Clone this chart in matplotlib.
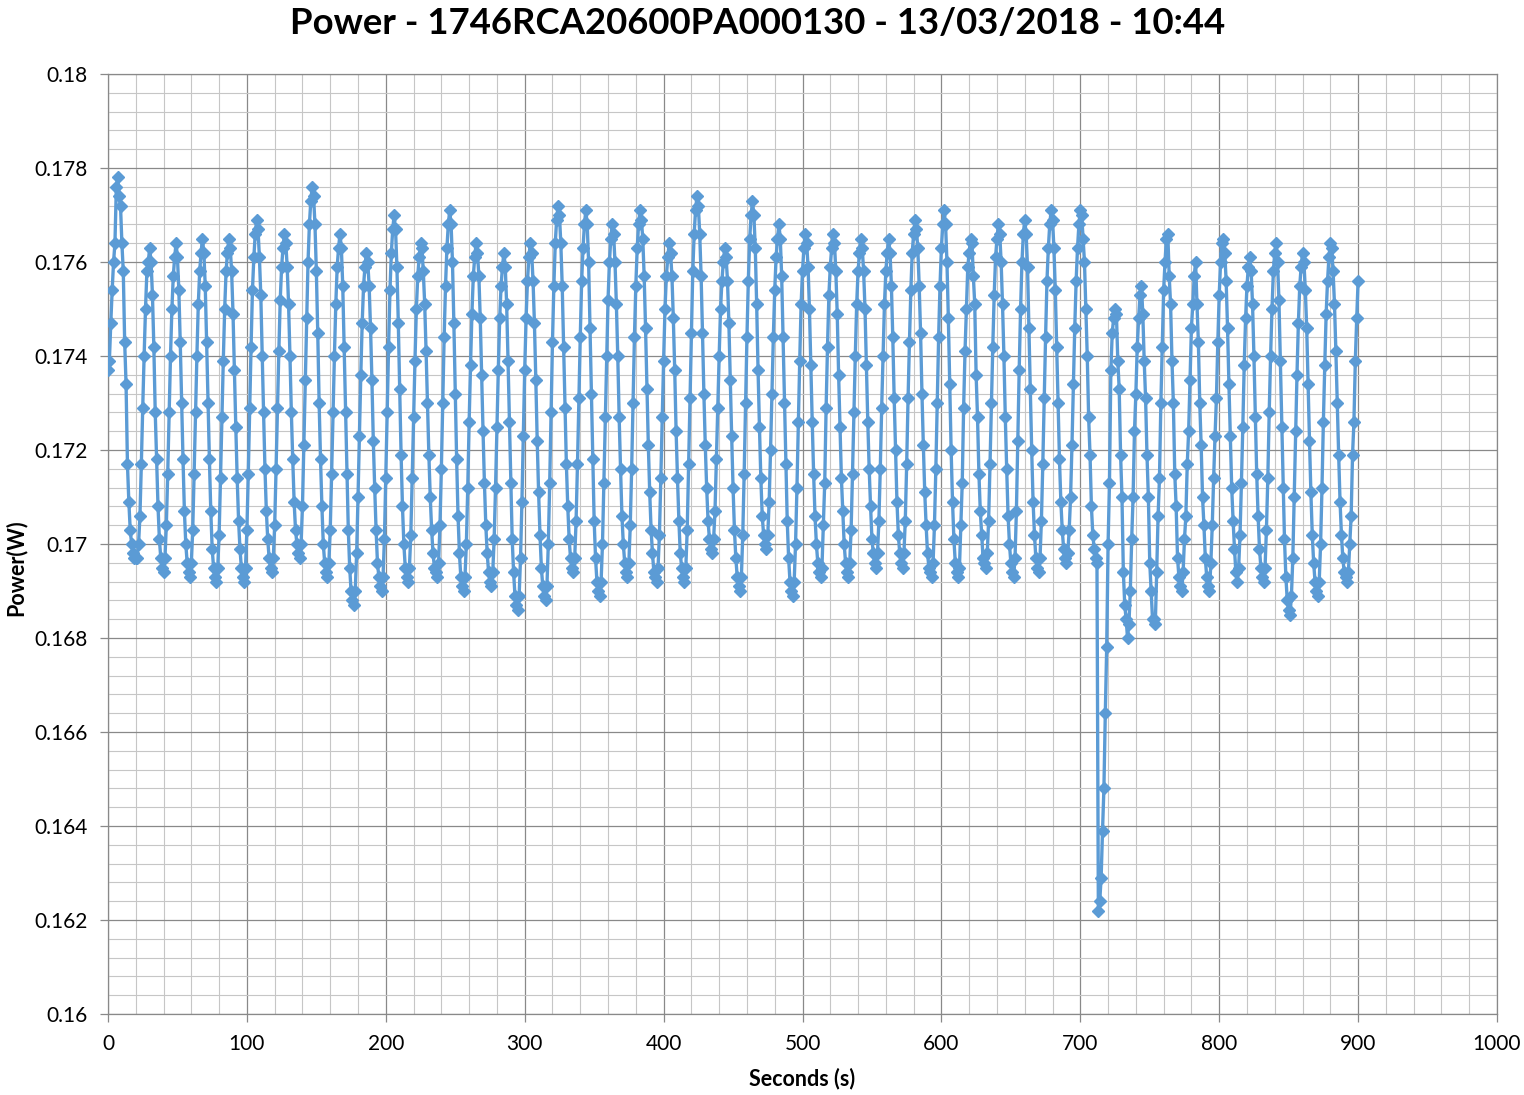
import numpy as np
import matplotlib
matplotlib.use("Agg")
import matplotlib.pyplot as plt
from matplotlib.ticker import MultipleLocator, FuncFormatter

TITLE = "Power - 1746RCA20600PA000130 - 13/03/2018 - 10:44"
X_LABEL = "Seconds (s)"
Y_LABEL = "Power(W)"

# Power samples in mW, one sample per second (t = 0 ... 900 s), one line per oscillation cycle
power_000 = [
    173.7, 173.9, 174.7, 175.4, 176.0, 176.4, 177.6, 177.8, 177.4, 177.2, 176.4, 175.8, 174.3, 173.4, 171.7, 170.9, 170.3, 170.0, 169.8, 169.7, 169.7,
    169.7, 170.0, 170.6, 171.7, 172.9, 174.0, 175.0, 175.8, 176.0, 176.3, 176.0, 175.3, 174.2, 172.8, 171.8, 170.8, 170.1, 169.7, 169.5,
    169.4, 169.7, 170.4, 171.5, 172.8, 174.0, 175.0, 175.7, 176.1, 176.4, 176.1, 175.4, 174.3, 173.0, 171.8, 170.7, 170.0, 169.6, 169.4,
    169.3, 169.6, 170.3, 171.5, 172.8, 174.0, 175.1, 175.8, 176.2, 176.5, 176.2, 175.5, 174.3, 173.0, 171.8, 170.7, 169.9, 169.5, 169.3,
    169.2, 169.5, 170.2, 171.4, 172.7, 173.9, 175.0, 175.8, 176.2, 176.5, 176.3, 175.8, 174.9, 173.7, 172.5, 171.4, 170.5, 169.9, 169.5, 169.3,
]
power_098 = [
    169.2, 169.5, 170.3, 171.5, 172.9, 174.2, 175.4, 176.1, 176.6, 176.9, 176.7, 176.1, 175.3, 174.0, 172.8, 171.6, 170.7, 170.1, 169.7, 169.5,
    169.4, 169.7, 170.4, 171.6, 172.9, 174.1, 175.2, 175.9, 176.3, 176.6, 176.4, 175.9, 175.1, 174.0, 172.8, 171.8, 170.9, 170.3, 170.0, 169.8,
    169.7, 170.0, 170.8, 172.1, 173.5, 174.8, 176.0, 176.8, 177.3, 177.6, 177.4, 176.8, 175.8, 174.5, 173.0, 171.8, 170.8, 170.0, 169.6, 169.4,
    169.3, 169.6, 170.3, 171.5, 172.8, 174.0, 175.1, 175.9, 176.3, 176.6, 176.3, 175.5, 174.2, 172.8, 171.5, 170.3, 169.5, 169.0, 168.8,
    168.7, 169.0, 169.8, 171.0, 172.3, 173.6, 174.7, 175.5, 175.9, 176.2, 176.0, 175.5, 174.6, 173.5, 172.2, 171.2, 170.3, 169.6, 169.3, 169.1,
]
power_197 = [
    169.0, 169.3, 170.1, 171.4, 172.8, 174.2, 175.4, 176.2, 176.7, 177.0, 176.7, 175.9, 174.7, 173.3, 171.9, 170.8, 170.0, 169.5, 169.3,
    169.2, 169.5, 170.2, 171.4, 172.7, 173.9, 175.0, 175.7, 176.1, 176.4, 176.3, 175.8, 175.1, 174.1, 173.0, 171.9, 171.0, 170.3, 169.8, 169.5, 169.4,
    169.3, 169.6, 170.4, 171.6, 173.0, 174.4, 175.5, 176.3, 176.8, 177.1, 176.8, 176.0, 174.7, 173.2, 171.8, 170.6, 169.8, 169.3, 169.1,
    169.0, 169.3, 170.0, 171.2, 172.6, 173.8, 174.9, 175.7, 176.1, 176.4, 176.2, 175.7, 174.8, 173.6, 172.4, 171.3, 170.4, 169.8, 169.4, 169.2,
    169.1, 169.4, 170.1, 171.2, 172.5, 173.7, 174.8, 175.5, 175.9, 176.2, 175.9, 175.1, 173.9, 172.6, 171.3, 170.1, 169.4, 168.9, 168.7,
]
power_295 = [
    168.6, 168.9, 169.7, 170.9, 172.3, 173.7, 174.8, 175.6, 176.1, 176.4, 176.2, 175.6, 174.7, 173.5, 172.2, 171.1, 170.2, 169.5, 169.1, 168.9,
    168.8, 169.1, 170.0, 171.3, 172.8, 174.3, 175.5, 176.4, 176.9, 177.2, 177.0, 176.4, 175.5, 174.2, 172.9, 171.7, 170.8, 170.1, 169.7, 169.5,
    169.4, 169.7, 170.5, 171.7, 173.1, 174.4, 175.6, 176.3, 176.8, 177.1, 176.8, 176.0, 174.6, 173.2, 171.8, 170.5, 169.7, 169.2, 169.0,
    168.9, 169.2, 170.0, 171.3, 172.7, 174.0, 175.2, 176.0, 176.5, 176.8, 176.6, 176.0, 175.1, 174.0, 172.7, 171.6, 170.6, 170.0, 169.6, 169.4,
    169.3, 169.6, 170.4, 171.6, 173.0, 174.4, 175.5, 176.3, 176.8, 177.1, 176.9, 176.5, 175.7, 174.6, 173.3, 172.1, 171.1, 170.3, 169.8, 169.4, 169.3,
]
power_395 = [
    169.2, 169.5, 170.2, 171.4, 172.7, 173.9, 175.0, 175.7, 176.1, 176.4, 176.2, 175.7, 174.8, 173.7, 172.4, 171.4, 170.5, 169.8, 169.5, 169.3,
    169.2, 169.5, 170.3, 171.7, 173.1, 174.5, 175.8, 176.6, 177.1, 177.4, 177.2, 176.6, 175.7, 174.5, 173.2, 172.1, 171.2, 170.5, 170.1, 169.9,
    169.8, 170.1, 170.7, 171.8, 172.9, 174.0, 175.0, 175.6, 176.0, 176.3, 176.1, 175.6, 174.7, 173.5, 172.3, 171.2, 170.3, 169.7, 169.3, 169.1,
    169.0, 169.3, 170.2, 171.5, 173.0, 174.4, 175.6, 176.5, 177.0, 177.3, 177.0, 176.3, 175.1, 173.7, 172.5, 171.4, 170.6, 170.2, 170.0,
    169.9, 170.2, 170.9, 172.0, 173.2, 174.4, 175.4, 176.1, 176.5, 176.8, 176.5, 175.7, 174.4, 173.0, 171.7, 170.5, 169.7, 169.2, 169.0,
]
power_493 = [
    168.9, 169.2, 170.0, 171.2, 172.6, 173.9, 175.1, 175.8, 176.3, 176.6, 176.4, 175.9, 175.0, 173.8, 172.6, 171.5, 170.6, 170.0, 169.6, 169.4,
    169.3, 169.5, 170.4, 171.3, 172.9, 174.2, 175.3, 175.9, 176.3, 176.6, 176.4, 175.8, 174.9, 173.6, 172.5, 171.4, 170.7, 170.0, 169.6, 169.4,
    169.3, 169.6, 170.3, 171.5, 172.8, 174.0, 175.1, 175.8, 176.2, 176.5, 176.3, 175.8, 175.0, 173.8, 172.6, 171.6, 170.8, 170.1, 169.8, 169.6,
    169.5, 169.8, 170.5, 171.6, 172.9, 174.0, 175.1, 175.8, 176.2, 176.5, 176.2, 175.5, 174.4, 173.1, 172.0, 170.9, 170.2, 169.8, 169.6,
    169.5, 169.8, 170.5, 171.7, 173.1, 174.3, 175.4, 176.2, 176.6, 176.9, 176.7, 176.3, 175.5, 174.5, 173.2, 172.1, 171.1, 170.4, 169.8, 169.5, 169.4,
]
power_593 = [
    169.3, 169.6, 170.4, 171.6, 173.0, 174.4, 175.5, 176.3, 176.8, 177.1, 176.8, 176.0, 174.8, 173.4, 172.0, 170.9, 170.1, 169.6, 169.4,
    169.3, 169.5, 170.4, 171.3, 172.9, 174.1, 175.0, 175.9, 176.2, 176.5, 176.4, 175.7, 175.1, 173.6, 172.7, 171.5, 170.7, 170.2, 169.7, 169.6,
    169.5, 169.8, 170.5, 171.7, 173.0, 174.2, 175.3, 176.1, 176.5, 176.8, 176.6, 176.0, 175.1, 174.0, 172.7, 171.6, 170.6, 170.0, 169.6, 169.4,
    169.3, 169.7, 170.7, 172.2, 173.7, 175.0, 176.0, 176.6, 176.9, 176.6, 175.9, 174.6, 173.3, 172.0, 170.9, 170.2, 169.7, 169.5,
    169.4, 169.7, 170.5, 171.7, 173.1, 174.4, 175.6, 176.3, 176.8, 177.1, 176.9, 176.3, 175.4, 174.2, 173.0, 171.8, 170.9, 170.3, 169.9, 169.7,
]
power_690 = [
    169.6, 169.8, 170.3, 171.0, 172.1, 173.4, 174.6, 175.6, 176.3, 176.8, 177.1, 177.0, 176.5, 176.0, 175.0, 174.0, 172.7, 171.9, 170.8, 170.2, 169.9, 169.7, 169.6,
    162.2, 162.4, 162.9, 163.9, 164.8, 166.4, 167.8, 170.0, 171.3, 173.7, 174.5, 174.8, 175.0, 174.9, 173.9, 173.3, 171.9, 171.0, 169.4, 168.7, 168.4,
    168.0, 168.3, 169.0, 170.1, 171.0, 172.4, 173.2, 174.2, 174.8, 175.3, 175.5, 174.9, 173.9, 173.1, 171.9, 171.0, 169.6, 169.0, 168.4, 168.4,
    168.3, 169.4, 170.6, 171.4, 173.0, 174.2, 175.4, 176.0, 176.5, 176.6, 175.7, 175.1, 173.9, 173.0, 171.5, 170.8, 169.7, 169.3, 169.1,
    169.0, 169.4, 170.1, 170.6, 171.7, 172.4, 173.5, 174.6, 175.1, 175.7, 176.0, 175.1, 174.3, 173.0, 172.1, 171.0, 170.4, 169.7, 169.3, 169.1,
]
power_793 = [
    169.0, 169.6, 170.4, 171.4, 172.3, 173.1, 174.3, 175.3, 176.0, 176.4, 176.5, 176.2, 175.6, 174.6, 173.4, 172.3, 171.2, 170.5, 169.9, 169.4,
    169.2, 169.5, 170.2, 171.3, 172.5, 173.8, 174.8, 175.5, 175.9, 176.1, 175.8, 175.1, 174.0, 172.7, 171.5, 170.6, 169.9, 169.5, 169.3,
    169.2, 169.5, 170.3, 171.4, 172.8, 174.0, 175.0, 175.8, 176.2, 176.4, 176.0, 175.2, 173.9, 172.5, 171.2, 170.1, 169.3, 168.8, 168.6,
    168.5, 168.9, 169.7, 171.0, 172.4, 173.6, 174.7, 175.5, 175.9, 176.2, 176.0, 175.4, 174.6, 173.4, 172.2, 171.1, 170.2, 169.6, 169.2, 169.0,
    168.9, 169.2, 170.0, 171.2, 172.6, 173.8, 174.9, 175.6, 176.1, 176.4, 176.3, 175.8, 175.1, 174.1, 173.0, 171.9, 170.9, 170.2, 169.7, 169.4, 169.3,
    169.2, 169.4, 170.0, 170.6, 171.9, 172.6, 173.9, 174.8, 175.6,
]

power_mw = np.array(power_000 + power_098 + power_197 + power_295 + power_395
                    + power_493 + power_593 + power_690 + power_793)
power_w = power_mw / 1000.0
seconds = np.arange(len(power_w))

BLUE = "#5B9BD5"
MAJOR = "#898989"
MINOR = "#C6C6C6"
FONT = "Lato"

fig = plt.figure(figsize=(15.24, 10.95), dpi=100)
W, H = 1524, 1095
ax = fig.add_axes([108 / W, 1 - 1014 / H, (1497 - 108) / W, (1014 - 74) / H])

ax.plot(seconds, power_w, color=BLUE, lw=2.4, marker="D", ms=6.3,
        mfc=BLUE, mec=BLUE, mew=1.0, zorder=3)

ax.set_xlim(0, 1000)
ax.set_ylim(0.16, 0.18)
ax.xaxis.set_major_locator(MultipleLocator(100))
ax.xaxis.set_minor_locator(MultipleLocator(20))
ax.yaxis.set_major_locator(MultipleLocator(0.002))
ax.yaxis.set_minor_locator(MultipleLocator(0.0004))
ax.yaxis.set_major_formatter(FuncFormatter(lambda v, p: f"{round(v, 4):g}"))

ax.grid(which="major", color=MAJOR, lw=0.9, zorder=0)
ax.grid(which="minor", color=MINOR, lw=0.8, zorder=0)
ax.set_axisbelow(True)
for s in ax.spines.values():
    s.set_color(MAJOR)
    s.set_linewidth(0.9)

ax.tick_params(which="major", length=5.5, width=0.9, color=MAJOR, pad=9,
               labelsize=15, labelcolor="black")
ax.tick_params(which="minor", length=0)
for lab in ax.get_xticklabels() + ax.get_yticklabels():
    lab.set_fontfamily(FONT)

fig.text(0.5 * (108 + 1497) / W, 1 - 1079 / H, X_LABEL, ha="center", va="center",
         fontsize=15.5, fontweight="bold", family=FONT)
fig.text(16 / W, 1 - 568 / H, Y_LABEL, ha="center", va="center", rotation=90,
         fontsize=15.5, fontweight="bold", family=FONT)
fig.text(758 / W, 1 - 23 / H, TITLE, ha="center", va="center",
         fontsize=26.3, fontweight="bold", family=FONT)

fig.savefig("out.png", dpi=100, facecolor="white")
